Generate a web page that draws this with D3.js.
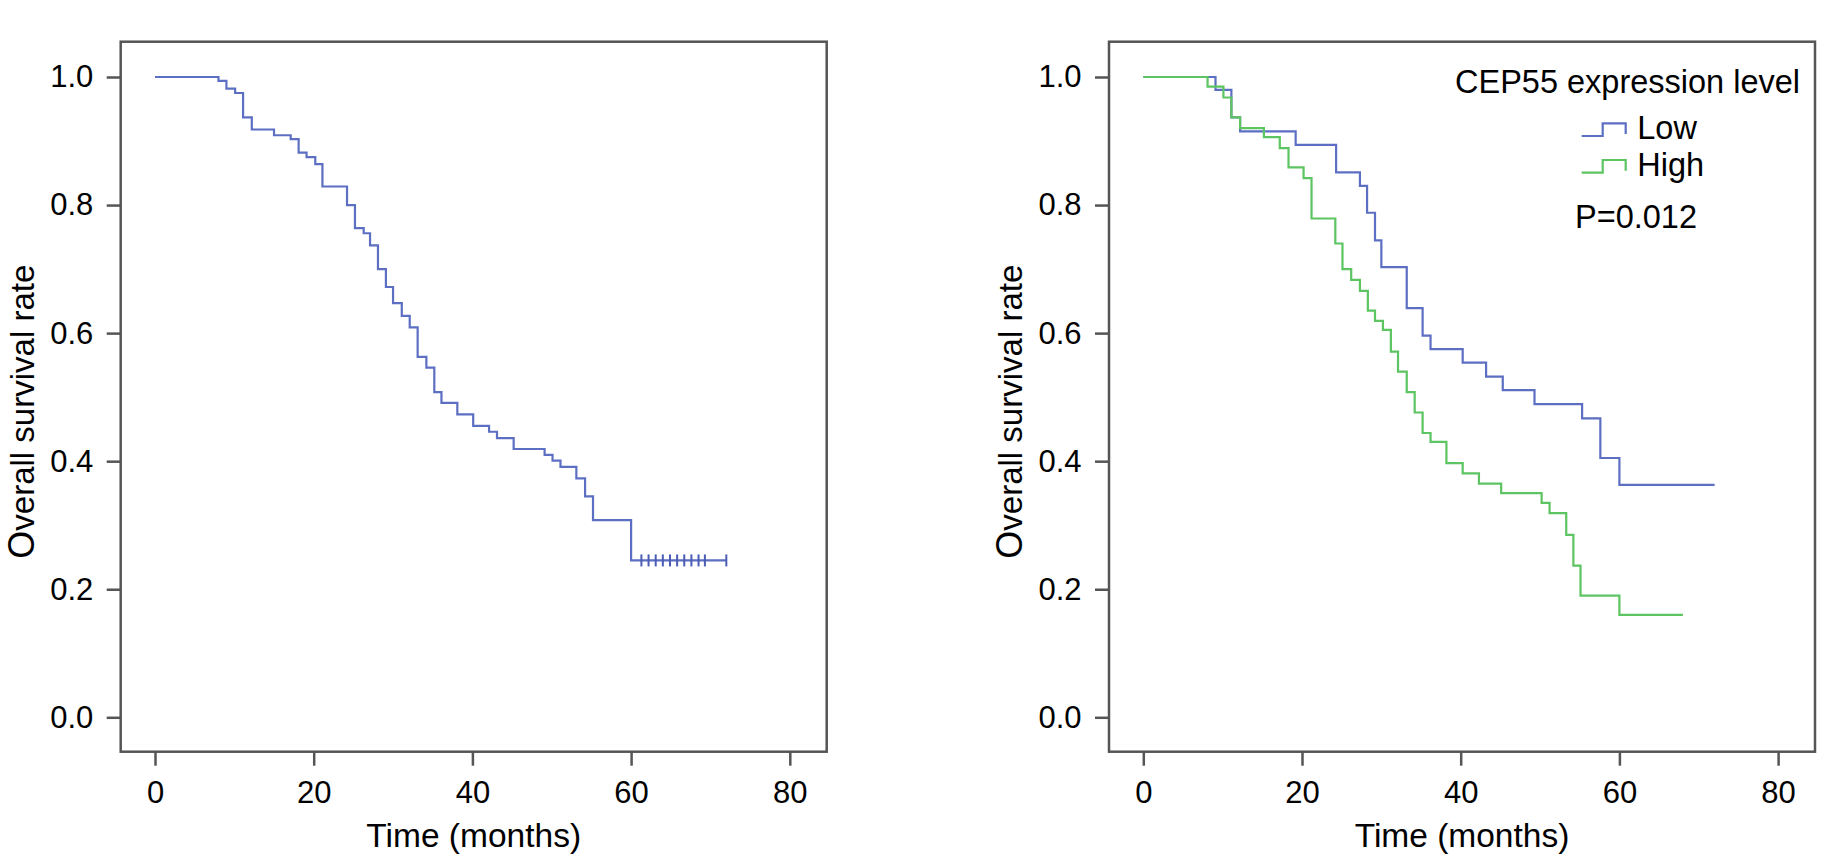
<!DOCTYPE html>
<html>
<head>
<meta charset="utf-8">
<script src="https://cdn.jsdelivr.net/npm/d3@7"></script>
<style>
  body { margin: 0; background: #fff; }
  text { font-family: "Liberation Sans", Arial, sans-serif; fill: #000; }
</style>
</head>
<body>
<svg id="chart" width="1831" height="858"></svg>
<script>
// overall cohort (left panel)
const overallTime = [0, 8, 9, 10.1, 11.1, 12.2, 15, 17.1, 18.1, 19.1, 20.2, 21.1, 24.2, 25.2, 26.3, 27.1, 28.1, 29.1, 30, 31.1, 32.1, 33.1, 34.2, 35.2, 36.1, 38.1, 40.1, 42.1, 43.1, 45.2, 49.1, 50.1, 51.1, 53.1, 54.2, 55.2, 60, 72];
const overallSurv = [1, 0.994, 0.982, 0.975, 0.937, 0.918, 0.909, 0.903, 0.882, 0.875, 0.864, 0.829, 0.800, 0.764, 0.756, 0.737, 0.700, 0.672, 0.647, 0.627, 0.609, 0.563, 0.546, 0.508, 0.491, 0.473, 0.455, 0.446, 0.436, 0.419, 0.410, 0.401, 0.391, 0.373, 0.345, 0.308, 0.245, 0.245];
const censorTime = [61.3, 62.2, 63.1, 64.0, 64.9, 65.8, 66.7, 67.6, 68.5, 69.3, 72];
const censorSurv = 0.245;

// CEP55 low / high (right panel)
const lowTime = [0, 9.1, 11.1, 12.2, 19.2, 24.3, 27.3, 28.2, 29.2, 30.0, 33.2, 35.2, 36.2, 40.25, 43.2, 45.3, 49.3, 55.3, 57.6, 60, 72];
const lowSurv = [1, 0.98, 0.937, 0.915, 0.894, 0.851, 0.830, 0.788, 0.745, 0.703, 0.639, 0.596, 0.575, 0.554, 0.532, 0.511, 0.489, 0.467, 0.405, 0.363, 0.363];
const highTime = [0, 8.1, 10.1, 11.1, 12.2, 15.2, 17.2, 18.3, 20.2, 21.2, 24.2, 25.1, 26.2, 27.3, 28.3, 29.2, 30.2, 31.2, 32.1, 33.2, 34.2, 35.2, 36.2, 38.2, 40.25, 42.3, 45.1, 50.2, 51.2, 53.3, 54.2, 55.1, 60, 68];
const highSurv = [1, 0.985, 0.968, 0.937, 0.92, 0.906, 0.889, 0.859, 0.842, 0.779, 0.74, 0.700, 0.683, 0.666, 0.635, 0.619, 0.605, 0.571, 0.540, 0.508, 0.476, 0.444, 0.430, 0.397, 0.381, 0.365, 0.350, 0.335, 0.319, 0.285, 0.237, 0.19, 0.16, 0.16];

const xTicks = [0, 20, 40, 60, 80];
const yTicks = [0, 0.2, 0.4, 0.6, 0.8, 1.0];
const xTitle = "Time (months)";
const yTitle = "Overall survival rate";
const legendTitle = "CEP55 expression level";
const groups = ["Low", "High"];
const pText = "P=0.012";

const blue = "#5d6fc3", green = "#5cc460", frameColor = "#555";
const W = 706, H = 710;

const svg = d3.select("#chart");

function toPoints(t, s) { return t.map((d, i) => [d, s[i]]); }

function makePanel(left, top) {
    const g = svg.append("g").attr("transform", `translate(${left},${top})`);
    const x = d3.scaleLinear().domain([0, 80]).range([34.3, 669.1]);
    const y = d3.scaleLinear().domain([0, 1]).range([675.6, 35.3]);

    const xa = g.append("g").attr("transform", `translate(0,${H})`)
        .call(d3.axisBottom(x).tickValues(xTicks).tickSize(14).tickSizeOuter(0).tickPadding(15));
    const ya = g.append("g")
        .call(d3.axisLeft(y).tickValues(yTicks).tickFormat(d3.format(".1f")).tickSize(14).tickSizeOuter(0).tickPadding(13.4));
    [xa, ya].forEach(a => {
        a.select(".domain").remove();
        a.selectAll("line").attr("stroke", frameColor).attr("stroke-width", 2.5);
        a.selectAll("text").style("font-size", "31px").attr("fill", "#000");
    });

    g.append("rect").attr("width", W).attr("height", H)
        .attr("fill", "none").attr("stroke", frameColor).attr("stroke-width", 2.5);

    g.append("text")
        .attr("x", W / 2).attr("y", 805)
        .attr("text-anchor", "middle").style("font-size", "33.5px")
        .text(xTitle);

    const yt = g.append("text")
        .attr("transform", `translate(-87,${370}) rotate(-90)`)
        .attr("text-anchor", "middle").style("font-size", "33px");
    yt.append("tspan").style("font-size", "36px").text(yTitle[0]);
    yt.append("tspan").text(yTitle.slice(1));

    return { g, x, y };
}

function drawCurve(p, t, s, color) {
    const line = d3.line().curve(d3.curveStepAfter).x(d => p.x(d[0])).y(d => p.y(d[1]));
    p.g.append("path").datum(toPoints(t, s))
        .attr("d", line).attr("fill", "none")
        .attr("stroke", color).attr("stroke-width", 2.2);
}

// left panel
const pL = makePanel(120.7, 41.7);
drawCurve(pL, overallTime, overallSurv, blue);
pL.g.selectAll(".censor").data(censorTime).enter().append("path")
    .attr("class", "censor")
    .attr("d", d => `M${pL.x(d)},${pL.y(censorSurv) - 6}v12`)
    .attr("stroke", "#4a5cb3").attr("stroke-width", 2);

// right panel
const pR = makePanel(1109, 41.7);
drawCurve(pR, lowTime, lowSurv, blue);
drawCurve(pR, highTime, highSurv, green);

const lg = pR.g.append("g");
lg.append("text").attr("x", 346).attr("y", 51.6).style("font-size", "32.5px").text(legendTitle);
[blue, green].forEach((c, i) => {
    const yb = 94.3 + i * 36.7, yt = yb - 12.7;
    lg.append("path")
        .attr("d", `M472.7,${yb}H493.7V${yt}H516.7V${yb - 2}`)
        .attr("fill", "none").attr("stroke", c).attr("stroke-width", 2.2);
    lg.append("text").attr("x", 528.3).attr("y", yb + 3.3).style("font-size", "32.5px").text(groups[i]);
});
lg.append("text").attr("x", 466).attr("y", 186).style("font-size", "32.5px").text(pText);
</script>
</body>
</html>
